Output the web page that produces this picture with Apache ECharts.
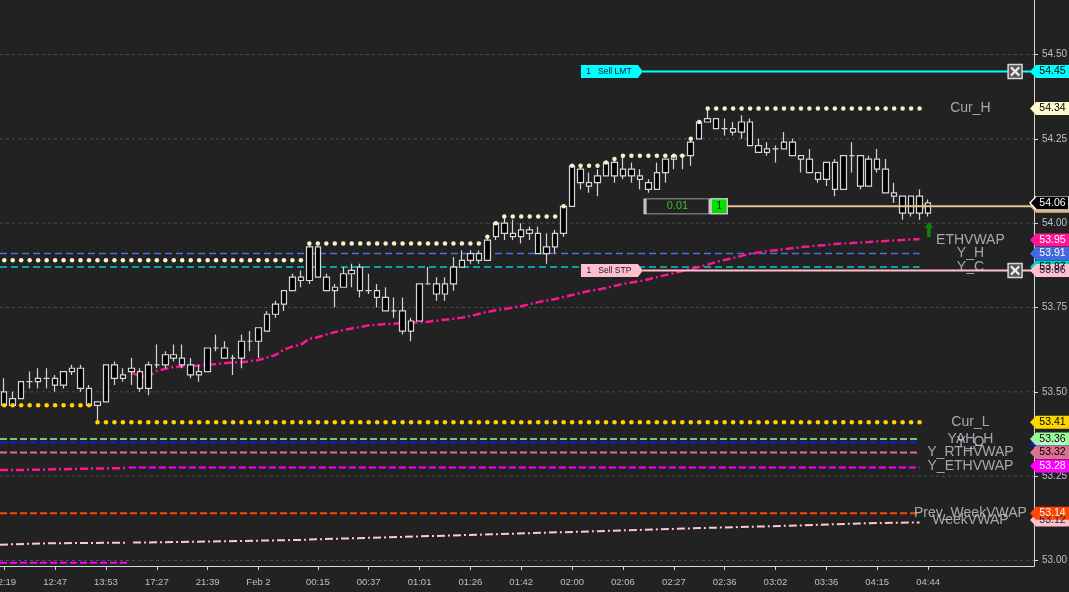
<!DOCTYPE html>
<html><head><meta charset="utf-8">
<script src="https://cdn.jsdelivr.net/npm/echarts@6/dist/echarts.min.js"></script>
<style>html,body{margin:0;padding:0;background:#222222;}#c{width:1069px;height:592px;}</style>
</head><body><div id="c"></div>
<script>
// ---------- DATA ----------
const tickIndex  = [0,6,12,18,24,30,37,43,49,55,61,67,73,79,85,91,97,103,109];
const tickLabels = ['12:19','12:47','13:53','17:27','21:39','Feb 2','00:15','00:37','01:01','01:26','01:42','02:00','02:06','02:27','02:36','03:02','03:36','04:15','04:44'];
const priceTicks = [53.00,53.25,53.50,53.75,54.00,54.25,54.50];
const yMin = 52.9837, yMax = 54.6616;
const barCount = 122; // slots on the time axis (110 bars + empty right margin)

const open = [53.50,53.46,53.48,53.53,53.53,53.54,53.54,53.52,53.56,53.57,
53.51,53.47,53.47,53.58,53.54,53.56,53.56,53.51,53.58,53.58,
53.61,53.60,53.58,53.55,53.56,53.63,53.63,53.60,53.60,53.65,
53.65,53.68,53.73,53.76,53.80,53.84,53.83,53.93,53.84,53.80,
53.81,53.85,53.87,53.80,53.80,53.78,53.74,53.74,53.68,53.71,
53.82,53.82,53.79,53.82,53.87,53.89,53.91,53.89,53.96,54.00,
53.97,53.96,53.98,53.97,53.91,53.93,53.97,54.05,54.16,54.12,
54.12,54.14,54.18,54.14,54.16,54.14,54.12,54.10,54.15,54.19,
54.20,54.20,54.25,54.30,54.31,54.28,54.28,54.27,54.30,54.23,
54.21,54.22,54.22,54.24,54.20,54.19,54.15,54.13,54.18,54.10,
54.20,54.20,54.11,54.19,54.16,54.09,54.08,54.03,54.08,54.03];
const close = [53.46,53.48,53.53,53.53,53.54,53.54,53.52,53.56,53.57,53.51,
53.46,53.46,53.58,53.54,53.55,53.57,53.51,53.58,53.58,53.61,
53.60,53.58,53.55,53.56,53.63,53.63,53.60,53.60,53.65,53.65,
53.69,53.73,53.76,53.80,53.84,53.83,53.93,53.84,53.80,53.81,
53.85,53.86,53.80,53.80,53.78,53.74,53.74,53.68,53.71,53.82,
53.82,53.79,53.82,53.87,53.89,53.91,53.89,53.95,54.00,53.97,
53.96,53.98,53.97,53.91,53.93,53.97,54.05,54.17,54.12,54.11,
54.14,54.18,54.14,54.16,54.14,54.13,54.10,54.15,54.19,54.20,
54.20,54.24,54.30,54.31,54.28,54.28,54.27,54.30,54.23,54.21,
54.22,54.22,54.24,54.20,54.19,54.15,54.13,54.18,54.10,54.20,
54.20,54.11,54.19,54.16,54.09,54.08,54.03,54.08,54.03,54.06];
const low = [53.46,53.46,53.48,53.51,53.51,53.51,53.50,53.51,53.55,53.50,
53.46,53.41,53.47,53.52,53.53,53.52,53.50,53.49,53.57,53.57,
53.59,53.57,53.54,53.53,53.56,53.62,53.60,53.55,53.57,53.62,
53.60,53.68,53.72,53.74,53.80,53.81,53.82,53.84,53.80,53.75,
53.81,53.81,53.78,53.79,53.75,53.74,53.72,53.67,53.65,53.71,
53.82,53.77,53.77,53.80,53.87,53.88,53.88,53.89,53.95,53.95,
53.95,53.94,53.95,53.91,53.88,53.91,53.96,54.05,54.10,54.09,
54.08,54.14,54.12,54.13,54.12,54.10,54.09,54.10,54.12,54.16,
54.16,54.17,54.25,54.30,54.28,54.26,54.26,54.25,54.23,54.21,
54.20,54.18,54.22,54.20,54.15,54.15,54.12,54.11,54.08,54.10,
54.15,54.10,54.11,54.15,54.09,54.06,54.01,54.02,54.01,54.02];
const high = [53.54,53.50,53.53,53.56,53.57,53.57,53.55,53.56,53.58,53.58,
53.52,53.47,53.58,53.59,53.57,53.60,53.57,53.59,53.64,53.62,
53.64,53.64,53.60,53.58,53.63,53.67,53.65,53.61,53.67,53.68,
53.69,53.74,53.77,53.80,53.85,53.86,53.94,53.93,53.85,53.82,
53.87,53.88,53.88,53.85,53.82,53.81,53.78,53.78,53.72,53.82,
53.87,53.84,53.84,53.90,53.92,53.92,53.92,53.96,54.00,54.02,
54.01,54.00,53.99,53.99,53.97,53.98,54.05,54.17,54.17,54.15,
54.16,54.18,54.19,54.20,54.18,54.16,54.13,54.18,54.19,54.20,
54.20,54.25,54.30,54.34,54.31,54.31,54.30,54.32,54.31,54.25,
54.24,54.23,54.27,54.25,54.20,54.22,54.15,54.18,54.19,54.20,
54.24,54.20,54.20,54.22,54.19,54.12,54.08,54.08,54.10,54.07];

// Current session high / low (step levels: [from bar, level])
const curHighSteps = [[0,53.89],[36,53.94],[57,53.96],[58,54.00],[59,54.02],[66,54.05],[67,54.17],[71,54.18],[72,54.19],[73,54.20],[81,54.25],[82,54.30],[83,54.34]];
const curLowSteps  = [[0,53.46],[11,53.41]];
const levelLastBar = 108;

// ETH VWAP of the current session, bars 15..108
const ethVwapStart = 15;
const ethVwap = [53.557,53.547,53.544,53.562,53.568,53.574,53.576,53.577,53.578,53.581,
53.582,53.585,53.587,53.588,53.591,53.594,53.602,53.609,53.625,53.634,
53.640,53.657,53.662,53.670,53.677,53.683,53.688,53.692,53.697,53.699,
53.701,53.702,53.704,53.705,53.706,53.708,53.711,53.714,53.717,53.720,
53.725,53.731,53.737,53.742,53.745,53.750,53.754,53.760,53.766,53.771,
53.775,53.781,53.787,53.793,53.799,53.803,53.808,53.814,53.820,53.824,
53.828,53.834,53.840,53.846,53.852,53.858,53.864,53.870,53.877,53.885,
53.891,53.897,53.903,53.909,53.913,53.917,53.920,53.923,53.926,53.929,
53.931,53.934,53.935,53.938,53.940,53.941,53.943,53.944,53.946,53.947,
53.949,53.950,53.952,53.952];
// previous-session ETH VWAP tail  [bar, value]
const prevEthVwap = [[-0.5,53.268],[4,53.269],[9,53.272],[14.3,53.274]];
// weekly VWAP readings [bar, value]
const weekVwapA = [[-0.5,53.047],[5,53.051],[14.3,53.053]];
const weekVwapB = [[15.2,53.053],[21,53.055],[28,53.058],[35,53.061],[37,53.063],[47,53.070],[58,53.078],[70,53.087],[82,53.096],[94,53.104],[101,53.110],[108,53.113]];

// horizontal reference levels
const levelNames  = ['Y_H','Y_C','YAH_H','Y_O','Y_RTHVWAP','Y_ETHVWAP','Prev_WeekVWAP','Prev_Y_ETHVWAP'];
const levelValues = [53.91,53.87,53.36,53.35,53.32,53.276,53.14,52.993];

// order / position lines
const sellLimit = 54.45, sellStop = 53.86, positionPrice = 54.05, lastPrice = 54.06;
const positionPnL = '0.01', positionQty = '1';
const entryArrowPrice = 53.981;

// name labels drawn right of the bars
const labelNames  = ['Cur_H','ETHVWAP','Y_H','Y_C','Cur_L','YAH_H','Y_O','Y_RTHVWAP','Y_ETHVWAP','Prev_WeekVWAP','WeekVWAP'];
const labelPrices = [54.34,53.95,53.91,53.87,53.41,53.36,53.35,53.32,53.28,53.14,53.12];

// price tags on the axis (drawn in this order)
const tagNames  = ['Y_O','YAH_H','WeekVWAP','Prev_WeekVWAP','Cur_L','Y_RTHVWAP','Y_ETHVWAP','Y_C','SellSTP','Y_H','ETHVWAP','Position','Last','Cur_H','SellLMT'];
const tagPrices = [53.35,53.36,53.12,53.14,53.41,53.32,53.28,53.87,53.86,53.91,53.95,54.05,54.06,54.34,54.45];

// ---------- STYLES ----------
const FONT = '"Liberation Sans", Arial, sans-serif';
const tagStyle = {
  'Y_O':{bg:'#1010ee',fg:'#ffffff'}, 'YAH_H':{bg:'#98fb98',fg:'#000000'},
  'WeekVWAP':{bg:'#ffc0cb',fg:'#202050'}, 'Prev_WeekVWAP':{bg:'#ff4500',fg:'#ffffff'},
  'Cur_L':{bg:'#ffd700',fg:'#000000'}, 'Y_RTHVWAP':{bg:'#db7093',fg:'#000000'},
  'Y_ETHVWAP':{bg:'#ff00ff',fg:'#ffffff'}, 'Y_C':{bg:'#00ced1',fg:'#000000'},
  'SellSTP':{bg:'#ffc0cb',fg:'#202050'}, 'Y_H':{bg:'#4169e1',fg:'#ffffff'},
  'ETHVWAP':{bg:'#ff1493',fg:'#ffffff'}, 'Position':{bg:'#deb887',fg:'#000000'},
  'Last':{bg:'#000000',fg:'#ffffff',border:'#ffffff'}, 'Cur_H':{bg:'#fffacd',fg:'#000000'},
  'SellLMT':{bg:'#00ffff',fg:'#000000'}
};
const levelStyle = {
  'Y_H':{c:'#4a6fdc',w:1.5,t:[7,4],x0:-0.5,x1:108},
  'Y_C':{c:'#00ccd2',w:1.5,t:[7,4],x0:-0.5,x1:108},
  'YAH_H':{c:'#98fb98',w:1.5,t:[7,3],x0:-0.5,x1:108},
  'Y_O':{c:'#1818f0',w:2,t:[7,3],x0:-0.5,x1:108},
  'Y_RTHVWAP':{c:'#db7093',w:2,t:[7,3],x0:-0.5,x1:108},
  'Y_ETHVWAP':{c:'#ff00ff',w:2,t:[7,3],x0:14.7,x1:108},
  'Prev_WeekVWAP':{c:'#ff4500',w:2,t:[7,3],x0:-0.5,x1:108},
  'Prev_Y_ETHVWAP':{c:'#ff00ff',w:2,t:[7,3],x0:-0.5,x1:14.5}
};

function expandSteps(steps, last){
  const out=[]; let k=0;
  for(let i=0;i<=last;i++){ while(k+1<steps.length && steps[k+1][0]<=i) k++; out.push(steps[k][1]); }
  return out;
}
const categories = Array.from({length:barCount},(_,i)=>String(i));
const tickMap = {}; tickIndex.forEach((t,k)=>tickMap[t]=tickLabels[k]);
const tickSet = new Set(tickIndex);
const candles = open.map((o,i)=>[o, close[i], low[i], high[i]]);
const curHigh = expandSteps(curHighSteps, levelLastBar);
const curLow  = expandSteps(curLowSteps, levelLastBar);

const series = [];
// grid lines
priceTicks.forEach(v=>series.push({type:'line',xAxisIndex:1,yAxisIndex:0,data:[[-0.5,v],[barCount-0.5,v]],symbol:'none',silent:true,z:1,
  lineStyle:{color:'#4e4e4e',width:1,type:[3,3]}}));
// level lines
levelNames.forEach((n,k)=>{const s=levelStyle[n]; series.push({type:'line',name:n,xAxisIndex:1,yAxisIndex:0,
  data:[[s.x0,levelValues[k]],[s.x1,levelValues[k]]],symbol:'none',silent:true,z:2,lineStyle:{color:s.c,width:s.w,type:s.t,opacity:1}});});
// vwaps
series.push({type:'line',name:'PrevETHVWAP',xAxisIndex:1,yAxisIndex:0,data:prevEthVwap,symbol:'none',silent:true,z:2,
  lineStyle:{color:'#ff1493',width:2.5,type:[8,3,2,3]}});
series.push({type:'line',name:'ETHVWAP',xAxisIndex:1,yAxisIndex:0,data:ethVwap.map((v,i)=>[i+ethVwapStart,v]),symbol:'none',silent:true,z:2,
  lineStyle:{color:'#ff1493',width:2.5,type:[8,3,2,3]}});
[weekVwapA,weekVwapB].forEach(d=>series.push({type:'line',name:'WeekVWAP',xAxisIndex:1,yAxisIndex:0,data:d,symbol:'none',silent:true,z:2,
  lineStyle:{color:'#ffc8d0',width:2,type:[8,3,2,3]}}));
// small entry marker behind last bar
series.push({type:'scatter',xAxisIndex:1,yAxisIndex:0,data:[[108.7,positionPrice]],symbol:'triangle',symbolRotate:-90,symbolSize:7,z:3,silent:true,
  itemStyle:{color:'#0a9a0a',opacity:1}});
// candles
series.push({type:'candlestick',name:'Price',xAxisIndex:0,yAxisIndex:0,data:candles,barWidth:6,z:5,silent:true,
  itemStyle:{color:'#000000',color0:'#000000',borderColor:'#d6d6d6',borderColor0:'#d6d6d6',borderColorDoji:'#d6d6d6',borderWidth:1.2,opacity:1}});
// current high / low dots
series.push({type:'scatter',name:'Cur_H',xAxisIndex:0,yAxisIndex:0,data:curHigh,symbol:'circle',symbolSize:4.5,z:6,silent:true,itemStyle:{color:'#f6f2cc',opacity:1}});
series.push({type:'scatter',name:'Cur_L',xAxisIndex:0,yAxisIndex:0,data:curLow,symbol:'circle',symbolSize:4.5,z:6,silent:true,itemStyle:{color:'#ffd400',opacity:1}});
// name labels
series.push({type:'scatter',xAxisIndex:1,yAxisIndex:0,symbolSize:1,z:6,silent:true,itemStyle:{color:'rgba(0,0,0,0)'},
  data:labelNames.map((n,k)=>({name:n,value:[114,labelPrices[k]]})),
  label:{show:true,position:'inside',formatter:'{b}',color:'#c6cbd2',fontSize:14,fontFamily:FONT}});
// order lines
series.push({type:'line',xAxisIndex:1,yAxisIndex:0,data:[[75.3,sellLimit],[barCount-0.5,sellLimit]],symbol:'none',silent:true,z:7,lineStyle:{color:'#00ffff',width:2,type:'solid',opacity:1}});
series.push({type:'line',xAxisIndex:1,yAxisIndex:0,data:[[75.3,sellStop],[barCount-0.5,sellStop]],symbol:'none',silent:true,z:7,lineStyle:{color:'#ffc0cb',width:2,type:'solid',opacity:1}});
series.push({type:'line',xAxisIndex:1,yAxisIndex:0,data:[[85.3,positionPrice],[barCount-0.5,positionPrice]],symbol:'none',silent:true,z:7,lineStyle:{color:'#e6c397',width:2,type:'solid',opacity:1}});
// order tags
const orderTagPath = 'path://M0,0L57,0L62,6.5L57,13L0,13Z';
series.push({type:'scatter',xAxisIndex:1,yAxisIndex:0,symbol:orderTagPath,symbolSize:[62,13],symbolKeepAspect:false,z:8,silent:true,
  data:[{value:[71.7,sellLimit],itemStyle:{color:'#00ffff',opacity:1},label:{formatter:'1   Sell LMT'}},
        {value:[71.7,sellStop],itemStyle:{color:'#ffc0cb',opacity:1},label:{formatter:'1   Sell STP'}}],
  label:{show:true,position:'inside',color:'#101040',fontSize:8.5,fontFamily:FONT,offset:[-3,0]}});
// position boxes
series.push({type:'scatter',xAxisIndex:1,yAxisIndex:0,symbol:'rect',z:8,silent:true,
  data:[{value:[79.44,positionPrice],symbolSize:[65,15],itemStyle:{color:'#222222',borderColor:'#c4c4c4',borderWidth:1.5,opacity:1},label:{formatter:positionPnL,color:'#33c233',fontSize:11}},
        {value:[84.36,positionPrice],symbolSize:[16,15],itemStyle:{color:'#00e000',borderColor:'#c4c4c4',borderWidth:1.5,opacity:1},label:{formatter:positionQty,color:'#0a2a0a',fontSize:11}}],
  label:{show:true,position:'inside',fontFamily:FONT}});
// close buttons on order lines
series.push({type:'scatter',xAxisIndex:1,yAxisIndex:0,symbol:'rect',symbolSize:14,z:9,silent:true,
  itemStyle:{color:'#555555',borderColor:'#d8d8d8',borderWidth:1.5,opacity:1},data:[[119.27,sellLimit],[119.27,sellStop]]});
series.push({type:'scatter',xAxisIndex:1,yAxisIndex:0,symbol:'path://M0,2L2,0L6,4L10,0L12,2L8,6L12,10L10,12L6,8L2,12L0,10L4,6Z',symbolSize:10,z:10,silent:true,
  itemStyle:{color:'#e8e8e8',opacity:1},data:[[119.27,sellLimit],[119.27,sellStop]]});
// green arrow
series.push({type:'scatter',xAxisIndex:1,yAxisIndex:0,symbol:'path://M5,0L10,6L7,6L7,15L3,15L3,6L0,6Z',symbolSize:[9,15],symbolKeepAspect:false,z:9,silent:true,
  itemStyle:{color:'#0a880a',opacity:1},data:[[109.1,entryArrowPrice]]});
// axis price tags
const tagPath = 'path://M0,6.5L6,0L39,0L39,13L6,13Z';
series.push({type:'scatter',xAxisIndex:2,yAxisIndex:1,symbol:tagPath,symbolSize:[39,13],symbolKeepAspect:false,z:10,silent:true,
  data:tagNames.map((n,k)=>{const s=tagStyle[n]; return {value:[0.5,tagPrices[k]],
    itemStyle:{color:s.bg,borderColor:s.border||s.bg,borderWidth:s.border?1:0,opacity:1},
    label:{formatter:tagPrices[k].toFixed(2),color:s.fg}};}),
  label:{show:true,position:'inside',fontSize:10.5,fontFamily:FONT,offset:[3,0]}});

const option = {
  backgroundColor:'#222222', animation:false, textStyle:{fontFamily:FONT},
  grid:[{left:0,right:35,top:0,bottom:26,containLabel:false,outerBoundsMode:'none'},
        {left:1030,right:0,top:0,bottom:26,containLabel:false,outerBoundsMode:'none'}],
  xAxis:[
    {type:'category',gridIndex:0,data:categories,boundaryGap:true,
     axisLine:{show:true,onZero:false,lineStyle:{color:'#d8d8d8',width:1}},
     axisTick:{show:true,alignWithLabel:true,interval:(i)=>tickSet.has(i),length:4,lineStyle:{color:'#d8d8d8'}},
     axisLabel:{show:true,interval:(i)=>tickSet.has(i),formatter:(v,i)=>tickMap[i]||'',color:'#b9c0c8',fontSize:9.5,margin:11,fontFamily:FONT,hideOverlap:false},
     splitLine:{show:false}},
    {type:'value',gridIndex:0,min:-0.5,max:barCount-0.5,show:false},
    {type:'value',gridIndex:1,min:0,max:1,show:false}
  ],
  yAxis:[
    {type:'value',gridIndex:0,position:'right',min:yMin,max:yMax,
     axisLine:{show:true,onZero:false,lineStyle:{color:'#d8d8d8',width:1}},
     axisTick:{show:true,length:4,customValues:priceTicks,lineStyle:{color:'#d8d8d8'}},
     axisLabel:{show:true,customValues:priceTicks,formatter:(v)=>v.toFixed(2),color:'#b9c0c8',fontSize:10,margin:8,fontFamily:FONT},
     splitLine:{show:false}},
    {type:'value',gridIndex:1,min:yMin,max:yMax,show:false}
  ],
  series
};
const chart = echarts.init(document.getElementById('c'));
chart.setOption(option);
</script></body></html>
